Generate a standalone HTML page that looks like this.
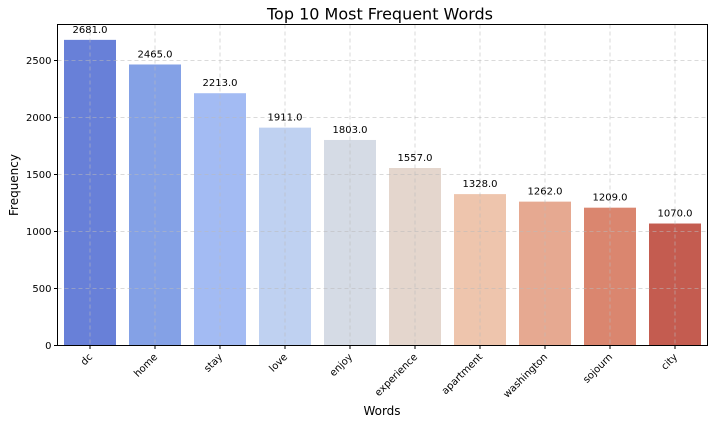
<!DOCTYPE html>
<html><head><meta charset="utf-8"><style>
body{margin:0;background:#fff;font-family:"Liberation Sans","DejaVu Sans",sans-serif}
</style></head><body>
<svg id="chart" width="712" height="424" xmlns="http://www.w3.org/2000/svg" font-family="DejaVu Sans, Liberation Sans, sans-serif">
<text x="380" y="19.5" font-size="16" text-anchor="middle">Top 10 Most Frequent Words</text>
<g id="bars"></g><g id="grid"></g><g id="labels"></g>
<rect x="57.5" y="24.5" width="650" height="321" fill="none" stroke="#000" stroke-width="1"/>
<text x="382" y="415" font-size="12" text-anchor="middle">Words</text>
<text x="18" y="185" font-size="12" text-anchor="middle" transform="rotate(-90 18 185)">Frequency</text>
</svg>
<script>
const categories=["dc","home","stay","love","enjoy","experience","apartment","washington","sojourn","city"];
const values=[2681,2465,2213,1911,1803,1557,1328,1262,1209,1070];
const colors=["#6880d8","#84a1e6","#a3bbf3","#bfd1f1","#d5dbe5","#e4d6cd","#eec5ad","#e6a991","#da866f","#c45c50"];
const yTicks=[0,500,1000,1500,2000,2500];
const L=57.5,R=707.5,T=24.5,B=345.5;
const y=v=>B-v*57/500;
const band=(R-L)/categories.length;
const x=i=>L+band*(i+0.5);
const ns="http://www.w3.org/2000/svg";
function mk(t,a,p){const e=document.createElementNS(ns,t);for(const k in a)e.setAttribute(k,a[k]);p.appendChild(e);return e;}
const gb=document.getElementById('bars'),gg=document.getElementById('grid'),gl=document.getElementById('labels');
categories.forEach((c,i)=>{
 const r=mk('rect',{x:x(i)-26,y:y(values[i]),width:52,height:B-y(values[i]),fill:colors[i]},gb);
 
 
 const gx=mk('line',{x1:x(i),x2:x(i),y1:T,y2:B,stroke:'#bbb','stroke-width':0.8,'stroke-dasharray':'4,3','opacity':0.7},gg);
 
 
 const v=mk('text',{x:x(i),y:y(values[i])-7,'font-size':10,'text-anchor':'middle'},gl);
 v.textContent=values[i].toFixed(1);
 
 
 mk('line',{x1:x(i),x2:x(i),y1:B,y2:B+3.5,stroke:'#000'},gl);
 const t=mk('text',{x:x(i)+3,y:B+12,'font-size':10,'text-anchor':'end',transform:`rotate(-45 ${x(i)+3} ${B+12})`},gl);
 t.textContent=c;
 
 
});
yTicks.forEach(v=>{
 const g=mk('line',{x1:L,x2:R,y1:y(v),y2:y(v),stroke:'#bbb','stroke-width':0.8,'stroke-dasharray':'4,3','opacity':0.7},gg);
 
 
 mk('line',{x1:L-3.5,x2:L,y1:y(v),y2:y(v),stroke:'#000'},gl);
 const t=mk('text',{x:L-6,y:y(v)+3.5,'font-size':10,'text-anchor':'end'},gl);
 t.textContent=v;
 
 
});
</script>
</body></html>
